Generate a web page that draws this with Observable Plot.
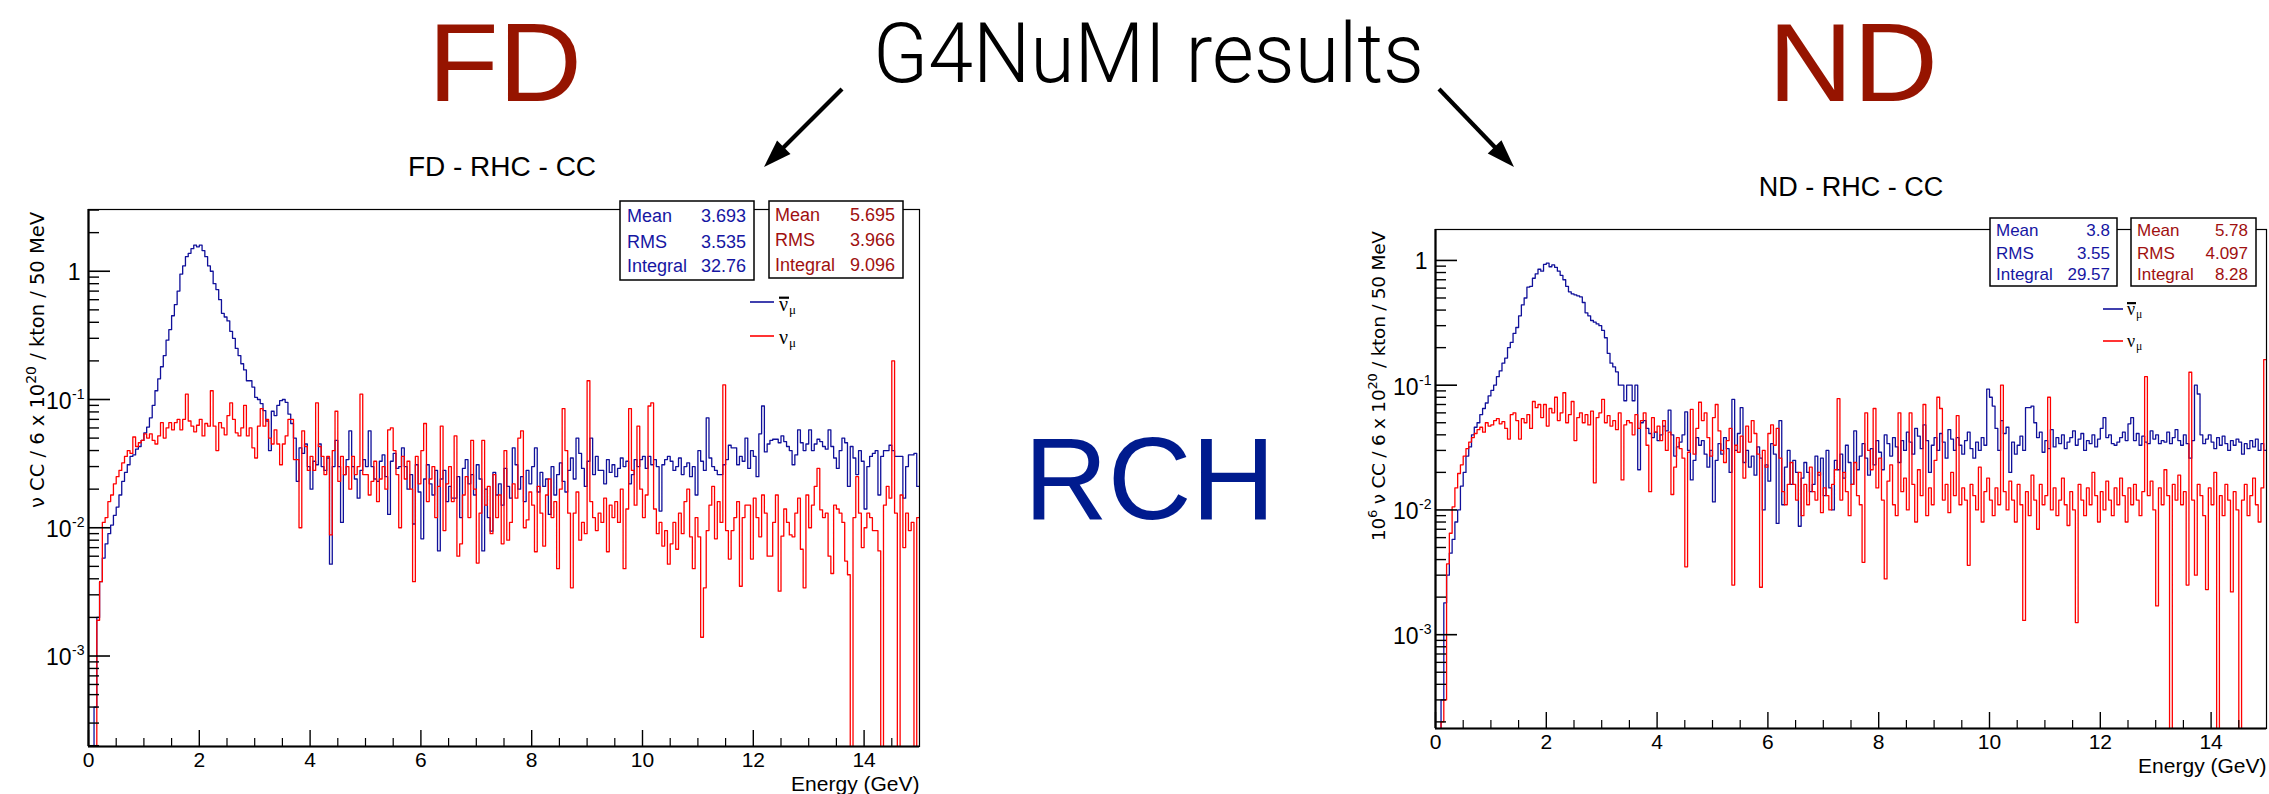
<!DOCTYPE html>
<html><head><meta charset="utf-8">
<script src="https://cdn.jsdelivr.net/npm/d3@7"></script>
<script src="https://cdn.jsdelivr.net/npm/@observablehq/plot@0.6"></script>
<style>
html,body{margin:0;padding:0;background:#fff;}
#root{position:relative;width:2269px;height:794px;overflow:hidden;background:#fff;font-family:"Liberation Sans",Arial,Helvetica,sans-serif;}
</style></head><body><div id="root"></div>
<script>
// ---------------- data ----------------
const binWidth = 0.05; // GeV, 300 bins from 0 to 15
const xTicksMajor = [0, 2, 4, 6, 8, 10, 12, 14];
const xTickLabels = ["0", "2", "4", "6", "8", "10", "12", "14"];
const yTicksMajor = [1e-3, 1e-2, 1e-1, 1];
const yTickBases = ["10", "10", "10", "1"];
const yTickExps = ["-3", "-2", "-1", ""];

// FD - RHC - CC, anti-numu (blue)
const fdAnti = [
0,0,0.0004,0.002,0.0038,0.0058,0.0075,0.009,0.0105,0.0125,
0.0145,0.018,0.023,0.027,0.031,0.036,0.037,0.041,0.043,0.048,
0.055,0.061,0.072,0.09,0.117,0.145,0.18,0.22,0.29,0.35,
0.45,0.55,0.7,0.95,1.1,1.3,1.38,1.5,1.6,1.55,
1.6,1.45,1.3,1.1,1.0,0.8,0.72,0.6,0.47,0.44,
0.41,0.34,0.3,0.25,0.22,0.19,0.17,0.14,0.14,0.125,
0.104,0.1,0.093,0.082,0.068,0.04,0.081,0.075,0.09,0.098,
0.1,0.095,0.077,0.065,0.05,0.023,0.042,0.038,0.045,0.03,
0.02,0.033,0.031,0.045,0.03,0.028,0.035,0.0052,0.03,0.048,
0.03,0.011,0.026,0.034,0.057,0.03,0.024,0.017,0.028,0.034,
0.03,0.057,0.03,0.024,0.023,0.033,0.037,0.025,0.0127,0.033,
0.038,0.029,0.03,0.042,0.03,0.02,0.026,0.0107,0.031,0.019,
0.0082,0.024,0.031,0.022,0.018,0.028,0.0066,0.024,0.028,0.016,
0.021,0.017,0.017,0.025,0.012,0.029,0.034,0.022,0.026,0.018,
0.031,0.024,0.0066,0.02,0.012,0.0094,0.027,0.018,0.022,0.015,
0.029,0.021,0.017,0.042,0.031,0.02,0.025,0.016,0.028,0.022,
0.03,0.042,0.019,0.027,0.021,0.024,0.0127,0.03,0.018,0.026,
0.032,0.023,0.019,0.028,0.035,0.024,0.05,0.038,0.029,0.021,
0.033,0.05,0.026,0.036,0.028,0.028,0.022,0.034,0.027,0.031,
0.025,0.029,0.035,0.03,0.033,0.022,0.026,0.034,0.03,0.034,
0.036,0.029,0.036,0.031,0.034,0.03,0.0135,0.031,0.034,0.036,
0.033,0.028,0.03,0.035,0.026,0.03,0.032,0.025,0.03,0.018,
0.04,0.033,0.028,0.072,0.035,0.03,0.028,0.026,0.026,0.031,
0.034,0.044,0.042,0.042,0.031,0.036,0.033,0.05,0.029,0.04,
0.036,0.025,0.054,0.089,0.039,0.045,0.048,0.049,0.049,0.046,
0.052,0.047,0.043,0.04,0.031,0.037,0.058,0.046,0.04,0.045,
0.058,0.04,0.045,0.049,0.047,0.043,0.041,0.058,0.043,0.035,
0.029,0.04,0.05,0.046,0.021,0.043,0.035,0.026,0.04,0.033,
0.014,0.03,0.036,0.038,0.04,0.018,0.036,0.04,0.04,0.044,
0.04,0.036,0.036,0.036,0.017,0.03,0.037,0.037,0.038,0.021];

// FD - RHC - CC, numu (red)
const fdNu = [
0,0,0.0002,0.0019,0.0038,0.011,0.012,0.016,0.018,0.022,
0.025,0.028,0.032,0.036,0.04,0.038,0.051,0.043,0.046,0.048,
0.054,0.05,0.054,0.048,0.045,0.052,0.066,0.05,0.06,0.066,
0.058,0.066,0.07,0.058,0.07,0.11,0.068,0.062,0.056,0.063,
0.07,0.052,0.065,0.062,0.117,0.062,0.04,0.066,0.06,0.053,
0.075,0.094,0.07,0.055,0.052,0.06,0.09,0.052,0.06,0.042,
0.035,0.062,0.085,0.062,0.07,0.05,0.045,0.058,0.045,0.031,
0.045,0.052,0.07,0.07,0.034,0.034,0.01,0.057,0.043,0.028,
0.036,0.028,0.094,0.043,0.036,0.026,0.036,0.0088,0.04,0.081,
0.023,0.036,0.026,0.03,0.02,0.036,0.026,0.03,0.11,0.026,
0.026,0.018,0.023,0.033,0.016,0.024,0.03,0.02,0.058,0.06,
0.04,0.026,0.01,0.036,0.024,0.033,0.02,0.0038,0.036,0.022,
0.04,0.065,0.016,0.024,0.03,0.012,0.021,0.062,0.0095,0.022,
0.03,0.016,0.052,0.006,0.0075,0.018,0.025,0.012,0.048,0.02,
0.0053,0.013,0.048,0.015,0.021,0.009,0.026,0.012,0.018,0.0075,
0.04,0.008,0.011,0.022,0.017,0.05,0.057,0.01,0.0115,0.019,
0.015,0.0065,0.021,0.013,0.0072,0.018,0.024,0.012,0.016,0.0048,
0.02,0.085,0.04,0.013,0.0034,0.013,0.019,0.008,0.011,0.009,
0.14,0.016,0.012,0.0095,0.013,0.011,0.017,0.0065,0.015,0.012,
0.016,0.011,0.02,0.0048,0.014,0.085,0.028,0.015,0.062,0.02,
0.012,0.018,0.089,0.094,0.014,0.009,0.011,0.0072,0.0095,0.0052,
0.0075,0.011,0.0068,0.013,0.009,0.016,0.02,0.0085,0.0048,0.012,
0.0085,0.0014,0.0034,0.0095,0.015,0.021,0.0082,0.016,0.011,0.13,
0.0095,0.0057,0.0095,0.012,0.016,0.0035,0.012,0.015,0.015,0.0057,
0.017,0.012,0.0085,0.018,0.013,0.006,0.006,0.011,0.018,0.0032,
0.0086,0.014,0.011,0.0088,0.0085,0.013,0.017,0.0068,0.0034,0.018,
0.01,0.015,0.021,0.029,0.0138,0.012,0.013,0.006,0.0044,0.015,
0.014,0.013,0.011,0.0055,0.0043,0,0.012,0.025,0.013,0.007,
0.01,0.013,0.012,0.0095,0.0095,0.0066,0,0.015,0.021,0.017,
0.2,0.013,0,0.018,0.007,0.013,0.0095,0.011,0,0.012];

// ND - RHC - CC, anti-numu (blue), 10^6 units
const ndAnti = [
0,0,0.0003,0.0018,0.003,0.0045,0.0058,0.008,0.01,0.0155,
0.02,0.027,0.032,0.04,0.046,0.05,0.058,0.065,0.072,0.082,
0.091,0.1,0.117,0.13,0.15,0.165,0.2,0.22,0.26,0.29,
0.36,0.44,0.5,0.61,0.62,0.72,0.78,0.85,0.82,0.93,
0.95,0.89,0.92,0.88,0.82,0.76,0.7,0.62,0.56,0.54,
0.53,0.52,0.51,0.46,0.38,0.36,0.33,0.32,0.31,0.3,
0.275,0.24,0.18,0.15,0.14,0.128,0.1,0.1,0.075,0.1,
0.1,0.075,0.1,0.021,0.05,0.052,0.045,0.041,0.038,0.042,
0.036,0.04,0.047,0.043,0.063,0.04,0.027,0.032,0.035,0.04,
0.061,0.03,0.0174,0.025,0.038,0.033,0.036,0.028,0.022,0.03,
0.0116,0.025,0.034,0.028,0.038,0.031,0.02,0.077,0.03,0.041,
0.066,0.024,0.03,0.022,0.027,0.019,0.032,0.026,0.01,0.023,
0.017,0.034,0.028,0.0078,0.052,0.011,0.022,0.03,0.016,0.025,
0.02,0.0074,0.018,0.024,0.02,0.014,0.016,0.027,0.019,0.026,
0.013,0.03,0.015,0.01,0.025,0.021,0.028,0.018,0.033,0.024,
0.016,0.043,0.021,0.027,0.034,0.026,0.019,0.031,0.023,0.036,
0.029,0.021,0.04,0.034,0.027,0.038,0.032,0.024,0.036,0.03,
0.042,0.035,0.028,0.045,0.039,0.031,0.048,0.036,0.02,0.033,
0.038,0.03,0.041,0.035,0.026,0.044,0.037,0.03,0.038,0.033,
0.028,0.036,0.042,0.031,0.026,0.035,0.03,0.038,0.033,0.093,
0.08,0.068,0.045,0.03,0.052,0.041,0.046,0.02,0.035,0.028,
0.033,0.039,0.03,0.066,0.066,0.068,0.05,0.038,0.042,0.029,
0.036,0.031,0.044,0.032,0.038,0.034,0.04,0.031,0.035,0.038,
0.043,0.033,0.037,0.041,0.03,0.036,0.034,0.04,0.032,0.037,
0.045,0.055,0.038,0.04,0.034,0.033,0.035,0.038,0.042,0.036,
0.049,0.055,0.036,0.041,0.033,0.039,0.035,0.034,0.043,0.037,
0.04,0.034,0.036,0.035,0.042,0.034,0.038,0.044,0.036,0.033,
0.04,0.034,0.026,0.036,0.1,0.085,0.04,0.034,0.037,0.04,
0.035,0.031,0.038,0.033,0.039,0.034,0.03,0.036,0.033,0.037,
0.035,0.028,0.034,0.031,0.036,0.032,0.037,0.03,0.034,0.03];

// ND - RHC - CC, numu (red), 10^6 units
const ndNu = [
0,0,0.0002,0.0003,0.0037,0.0065,0.0106,0.015,0.0196,0.023,
0.027,0.031,0.035,0.038,0.041,0.044,0.046,0.042,0.05,0.047,
0.048,0.052,0.054,0.049,0.051,0.045,0.037,0.058,0.06,0.052,
0.037,0.054,0.05,0.058,0.045,0.074,0.066,0.07,0.055,0.07,
0.047,0.065,0.06,0.08,0.052,0.06,0.087,0.05,0.058,0.074,
0.036,0.055,0.06,0.05,0.058,0.048,0.062,0.0165,0.055,0.06,
0.077,0.05,0.057,0.047,0.052,0.044,0.06,0.0174,0.048,0.052,
0.05,0.04,0.058,0.045,0.052,0.06,0.033,0.014,0.055,0.042,
0.047,0.036,0.052,0.03,0.042,0.0133,0.022,0.038,0.031,0.026,
0.0035,0.029,0.064,0.028,0.045,0.073,0.052,0.06,0.038,0.027,
0.055,0.07,0.043,0.03,0.024,0.036,0.045,0.0025,0.033,0.029,
0.039,0.018,0.047,0.035,0.052,0.041,0.028,0.0024,0.03,0.022,
0.041,0.048,0.033,0.045,0.026,0.014,0.011,0.016,0.024,0.016,
0.012,0.02,0.009,0.016,0.011,0.022,0.014,0.012,0.02,0.0095,
0.015,0.013,0.01,0.016,0.021,0.078,0.012,0.02,0.014,0.009,
0.016,0.024,0.013,0.011,0.0038,0.06,0.03,0.021,0.065,0.015,
0.026,0.012,0.0028,0.017,0.023,0.011,0.009,0.06,0.014,0.018,
0.01,0.06,0.016,0.008,0.021,0.013,0.07,0.009,0.015,0.011,
0.025,0.08,0.065,0.012,0.016,0.0095,0.02,0.013,0.057,0.011,
0.015,0.012,0.0036,0.016,0.013,0.01,0.022,0.008,0.014,0.018,
0.012,0.009,0.015,0.011,0.1,0.014,0.01,0.017,0.012,0.008,
0.016,0.011,0.0013,0.014,0.009,0.019,0.012,0.007,0.016,0.011,
0.013,0.08,0.01,0.015,0.009,0.012,0.018,0.011,0.0075,0.014,
0.01,0.00125,0.016,0.012,0.009,0.015,0.011,0.02,0.013,0.008,
0.014,0.01,0.017,0.012,0.009,0.015,0.011,0.018,0.013,0.008,
0.015,0.011,0.016,0.012,0.009,0.014,0.117,0.013,0.017,0.01,
0.0017,0.015,0.011,0.021,0.013,0,0.016,0.012,0.019,0.011,
0.014,0.0025,0.127,0.012,0.003,0.016,0.013,0.009,0.0023,0.015,
0.011,0.02,0,0.013,0.009,0.016,0.012,0.0022,0.014,0.01,
0,0.012,0.016,0.009,0.013,0.018,0.011,0.008,0.015,0.16];

const statsLabels = ["Mean", "RMS", "Integral"];
const fdStatsAnti = ["3.693", "3.535", "32.76"];
const fdStatsNu = ["5.695", "3.966", "9.096"];
const ndStatsAnti = ["3.8", "3.55", "29.57"];
const ndStatsNu = ["5.78", "4.097", "8.28"];

// ---------------- drawing ----------------
const FONT = '"Liberation Sans", Arial, Helvetica, sans-serif';
const BLUE = "#10109a", RED = "#ff0000", TXTBLUE = "#1616a2", TXTRED = "#a01010";
const root = document.getElementById("root");

function histPoints(vals) {
  const pts = vals.map((v, i) => ({x: i * binWidth, y: v}));
  pts.push({x: vals.length * binWidth, y: vals[vals.length - 1]});
  return pts;
}

function panel(cfg) {
  const {left, top, width, height, mt, mr, mb, ml, yDomain, anti, nu} = cfg;
  const fw = width - ml - mr, fh = height - mt - mb;
  const yMinor = [];
  for (let e = -5; e <= 1; e++) for (let k = 2; k <= 9; k++) {
    const v = k * Math.pow(10, e);
    if (v > yDomain[0] && v < yDomain[1]) yMinor.push(v);
  }
  const xMinor = d3.range(0, 15.001, 0.5).filter(v => !xTicksMajor.includes(v) && v < 15);
  const floor = yDomain[0] / 100;
  const chart = Plot.plot({
    width, height, marginTop: mt, marginRight: mr, marginBottom: mb, marginLeft: ml,
    x: {domain: [0, 15], axis: null},
    y: {type: "log", domain: yDomain, axis: null},
    style: {fontFamily: FONT, fontSize: "21px", background: "transparent", overflow: "visible", color: "#000"},
    marks: [
      Plot.line(histPoints(anti), {x: "x", y: d => Math.max(d.y, floor), curve: "step-after", stroke: BLUE, strokeWidth: 1.3, clip: true}),
      Plot.line(histPoints(nu), {x: "x", y: d => Math.max(d.y, floor), curve: "step-after", stroke: RED, strokeWidth: 1.3, clip: true}),
      Plot.frame({stroke: "#000", strokeWidth: 1.2}),
      Plot.ruleX([0], {stroke: "#000", strokeWidth: 2.2}),
      Plot.ruleY([yDomain[0]], {stroke: "#000", strokeWidth: 2.2}),
      Plot.tickX(xTicksMajor, {x: d => d, insetTop: fh - 16, stroke: "#000", strokeWidth: 1.4}),
      Plot.tickX(xMinor, {x: d => d, insetTop: fh - 8, stroke: "#000", strokeWidth: 1.2}),
      Plot.tickY(yTicksMajor, {y: d => d, insetRight: fw - 22, stroke: "#000", strokeWidth: 1.6}),
      Plot.tickY(yMinor, {y: d => d, insetRight: fw - 11, stroke: "#000", strokeWidth: 1.4}),
      Plot.text(xTicksMajor, {x: d => d, text: (d, i) => xTickLabels[i], frameAnchor: "bottom", dy: 14, lineAnchor: "middle", fontSize: 21, fill: "#000"}),
      Plot.text(yTicksMajor, {y: d => d, text: (d, i) => yTickBases[i], frameAnchor: "left", textAnchor: "end",
        dx: -17, dy: 2, lineAnchor: "middle", fontSize: 23, fill: "#000", filter: (d, i) => yTickExps[i] !== ""}),
      Plot.text(yTicksMajor, {y: d => d, text: (d, i) => yTickExps[i], frameAnchor: "left", textAnchor: "end",
        dx: -4, dy: -5, lineAnchor: "middle", fontSize: 14, fill: "#000", filter: (d, i) => yTickExps[i] !== ""}),
      Plot.text(yTicksMajor, {y: d => d, text: (d, i) => yTickBases[i], frameAnchor: "left", textAnchor: "end",
        dx: -8, dy: 1, lineAnchor: "middle", fontSize: 23, fill: "#000", filter: (d, i) => yTickExps[i] === ""}),
      Plot.text(["Energy (GeV)"], {text: d => d, frameAnchor: "bottom-right", textAnchor: "end", dy: 38, lineAnchor: "middle", fontSize: 21, fill: "#000"})
    ]
  });
  chart.style.position = "absolute";
  chart.style.left = left + "px";
  chart.style.top = top + "px";
  root.appendChild(chart);
}

// FD: frame x 88..919, y 209..746
panel({left: 0, top: 180, width: 960, height: 614, ml: 88, mr: 41, mt: 29, mb: 48, yDomain: [1.97e-4, 3.03], anti: fdAnti, nu: fdNu});
// ND: frame x 1435..2266, y 229..728
panel({left: 1340, top: 200, width: 929, height: 594, ml: 95, mr: 3, mt: 29, mb: 66, yDomain: [1.77e-4, 1.77], anti: ndAnti, nu: ndNu});

// ---------------- annotations overlay ----------------
const ov = d3.select(root).append("svg")
  .attr("width", 2269).attr("height", 794)
  .style("position", "absolute").style("left", "0px").style("top", "0px")
  .attr("font-family", FONT);

function txt(x, y, s, opts = {}) {
  const t = ov.append("text").attr("x", x).attr("y", y).text(s);
  for (const k in opts) t.attr(k, opts[k]);
  return t;
}

// big headings
txt(505, 101, "FD", {"text-anchor": "middle", "font-size": 111, fill: "#961400", textLength: 154, lengthAdjust: "spacingAndGlyphs"});
txt(1853, 101, "ND", {"text-anchor": "middle", "font-size": 111, fill: "#961400", textLength: 170, lengthAdjust: "spacingAndGlyphs"});
txt(873, 82, "G4NuMI results", {"font-size": 83, "font-family": "Roboto, Inter, sans-serif", "font-weight": 300, fill: "#000",
  textLength: 551, lengthAdjust: "spacingAndGlyphs"});
txt(1024, 519, "RCH", {"font-size": 116, fill: "#001b8e"});

// arrows
function arrow(x1, y1, x2, y2) {
  const dx = x2 - x1, dy = y2 - y1, L = Math.hypot(dx, dy), ux = dx / L, uy = dy / L;
  const hl = 28, hw = 9.5;
  const bx = x2 - ux * hl, by = y2 - uy * hl;
  ov.append("line").attr("x1", x1).attr("y1", y1).attr("x2", bx + ux * 4).attr("y2", by + uy * 4)
    .attr("stroke", "#000").attr("stroke-width", 4.2);
  ov.append("path").attr("d", `M${x2},${y2}L${bx - uy * hw},${by + ux * hw}L${bx + uy * hw},${by - ux * hw}Z`).attr("fill", "#000");
}
arrow(842, 89, 764, 167);
arrow(1439, 89, 1514, 167);

// panel titles
txt(502, 176, "FD - RHC - CC", {"text-anchor": "middle", "font-size": 28, fill: "#000"});
txt(1851, 196, "ND - RHC - CC", {"text-anchor": "middle", "font-size": 27, fill: "#000"});

// y axis titles
const TITLEFONT = '"DejaVu Sans", Verdana, sans-serif';
{
  const t = ov.append("text").attr("transform", "translate(44,212) rotate(-90)").attr("text-anchor", "end")
    .attr("font-family", TITLEFONT).attr("font-size", 19.5).attr("fill", "#000")
    .attr("textLength", 296).attr("lengthAdjust", "spacing");
  t.append("tspan").text("ν CC / 6 x 10");
  t.append("tspan").attr("dy", -8).attr("font-size", 14).text("20");
  t.append("tspan").attr("dy", 8).text(" / kton / 50 MeV");
}
{
  const t = ov.append("text").attr("transform", "translate(1385,231) rotate(-90)").attr("text-anchor", "end")
    .attr("font-family", TITLEFONT).attr("font-size", 18.5).attr("fill", "#000")
    .attr("textLength", 310).attr("lengthAdjust", "spacing");
  t.append("tspan").text("10");
  t.append("tspan").attr("dy", -8).attr("font-size", 13).text("6");
  t.append("tspan").attr("dy", 8).text(" ν CC / 6 x 10");
  t.append("tspan").attr("dy", -8).attr("font-size", 13).text("20");
  t.append("tspan").attr("dy", 8).text(" / kton / 50 MeV");
}

// stats boxes
function statsBox(x, y, w, h, color, values, labelX, valueX, baselines, fs) {
  ov.append("rect").attr("x", x).attr("y", y).attr("width", w).attr("height", h)
    .attr("fill", "#fff").attr("stroke", "#000").attr("stroke-width", 1.5);
  statsLabels.forEach((k, i) => {
    txt(labelX, baselines[i], k, {fill: color, "font-size": fs});
    txt(valueX, baselines[i], values[i], {fill: color, "font-size": fs, "text-anchor": "end"});
  });
}
statsBox(620, 201, 134, 79, TXTBLUE, fdStatsAnti, 627, 746, [222, 248, 272], 18);
statsBox(769, 201, 134, 77, TXTRED, fdStatsNu, 775, 895, [221, 246, 271], 18);
statsBox(1990, 218, 127, 68, TXTBLUE, ndStatsAnti, 1996, 2110, [236, 259, 280], 17);
statsBox(2131, 218, 125, 68, TXTRED, ndStatsNu, 2137, 2248, [236, 259, 280], 17);

// legends
function legendEntry(x1, x2, ly, color, lx, base, fs, bar) {
  ov.append("line").attr("x1", x1).attr("x2", x2).attr("y1", ly).attr("y2", ly).attr("stroke", color).attr("stroke-width", 1.6);
  txt(lx, base, "ν", {"font-family": '"Liberation Serif", "Times New Roman", serif', "font-size": fs, fill: "#000"});
  txt(lx + fs * 0.5, base + fs * 0.17, "μ", {"font-family": '"Liberation Serif", "Times New Roman", serif', "font-size": fs * 0.65, fill: "#000"});
  if (bar) ov.append("rect").attr("x", lx).attr("y", base - fs * 0.72).attr("width", fs * 0.5).attr("height", 2.2).attr("fill", "#000");
}
legendEntry(750, 774, 302, BLUE, 779, 311, 20, true);
legendEntry(750, 774, 336, RED, 779, 344, 20, false);
legendEntry(2103, 2123, 309, BLUE, 2127, 315, 18, true);
legendEntry(2103, 2123, 341, RED, 2127, 347, 18, false);
</script></body></html>
